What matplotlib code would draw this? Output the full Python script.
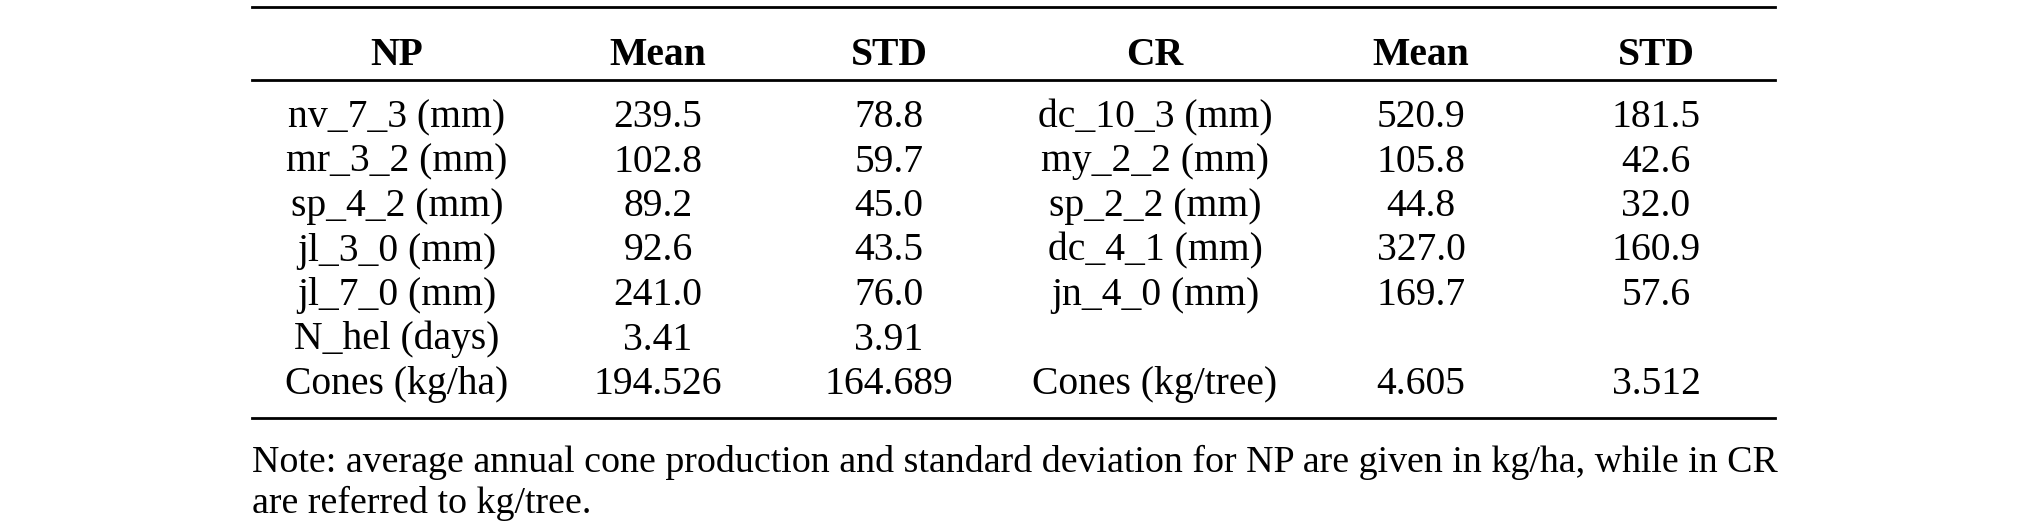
import matplotlib.pyplot as plt
from matplotlib.lines import Line2D

# table contents
headers = ["NP", "Mean", "STD", "CR", "Mean", "STD"]
np_labels = ["nv_7_3 (mm)", "mr_3_2 (mm)", "sp_4_2 (mm)", "jl_3_0 (mm)", "jl_7_0 (mm)",
             "N_hel (days)", "Cones (kg/ha)"]
np_mean = ["239.5", "102.8", "89.2", "92.6", "241.0", "3.41", "194.526"]
np_std = ["78.8", "59.7", "45.0", "43.5", "76.0", "3.91", "164.689"]
cr_labels = ["dc_10_3 (mm)", "my_2_2 (mm)", "sp_2_2 (mm)", "dc_4_1 (mm)", "jn_4_0 (mm)",
             "", "Cones (kg/tree)"]
cr_mean = ["520.9", "105.8", "44.8", "327.0", "169.7", "", "4.605"]
cr_std = ["181.5", "42.6", "32.0", "160.9", "57.6", "", "3.512"]
note_lines = ["Note: average annual cone production and standard deviation for NP are given in kg/ha, while in CR",
              "are referred to kg/tree."]

plt.rcParams['font.family'] = ['Liberation Serif', 'DejaVu Serif']

W, H = 2024, 530
fig = plt.figure(figsize=(W / 100, H / 100), dpi=100)


def fy(px):
    # pixel row from the top -> figure fraction
    return 1 - px / H


col_x = [397, 658, 889, 1155, 1421, 1656]
x_left, x_right = 252, 1775
fs = 28.5
note_fs = 27.3

# horizontal rules
for y in [7, 80, 418]:
    fig.add_artist(Line2D([x_left / W, x_right / W], [fy(y), fy(y)], color="black", lw=2.0))

for x, h in zip(col_x, headers):
    fig.text(x / W, fy(65), h, ha="center", va="baseline", fontsize=fs, fontweight="bold")

columns = [np_labels, np_mean, np_std, cr_labels, cr_mean, cr_std]
row_base, row_step = 127, 44.5
for x, col in zip(col_x, columns):
    for i, val in enumerate(col):
        fig.text(x / W, fy(row_base + i * row_step), val, ha="center", va="baseline", fontsize=fs)

for i, line in enumerate(note_lines):
    fig.text(x_left / W, fy(472 + i * 41), line, ha="left", va="baseline", fontsize=note_fs)

fig.savefig("out.png", dpi=100)
